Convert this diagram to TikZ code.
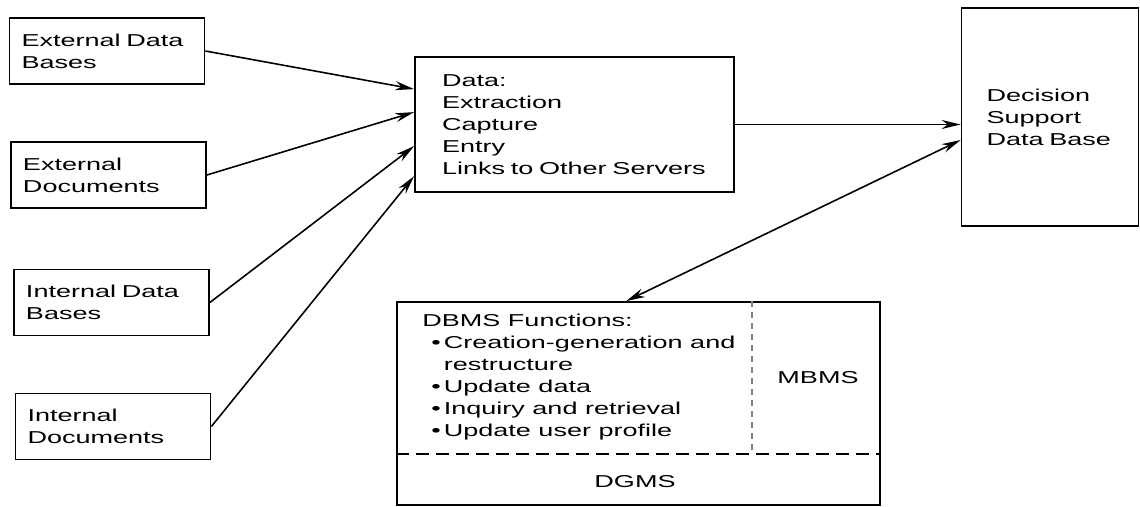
\documentclass[tikz,border=0pt]{standalone}
\usepackage{fontspec}
\setmainfont{Liberation Sans}[FakeStretch=1.57]
\usepackage{tikz}
\usetikzlibrary{calc,arrows.meta}

\begin{document}
\begin{tikzpicture}[y=-1cm,
  every node/.style={font=\fontsize{9.8}{12.5}\selectfont},
  box/.style={draw, line width=1pt, align=left, inner ysep=0pt},
  arr/.style={-{Stealth[length=0.38cm,width=0.18cm]}, line width=0.9pt},
  arrboth/.style={{Stealth[length=0.38cm,width=0.18cm]}-{Stealth[length=0.38cm,width=0.18cm]}, line width=0.9pt},
  hdash/.style={line width=0.9pt, dash pattern=on 0.26cm off 0.14cm},
  vdash/.style={line width=0.6pt, gray, dash pattern=on 0.12cm off 0.1cm}]
  \useasboundingbox (0,0) rectangle (22.8,10.14);
  \foreach \i/\x/\y/\t in {1/2.14/1.02/{External Data\\Bases},
                           2/2.17/3.5/{External\\Documents},
                           3/2.23/6.05/{Internal Data\\Bases},
                           4/2.26/8.53/{Internal\\Documents}}{
    \node[box, text width=3.42cm, inner xsep=0.24cm, minimum height=1.32cm] (src\i) at (\x,\y) {\t};
  }
  \node[box, text width=5.3cm, inner xsep=0.54cm, minimum height=2.7cm] (data) at (11.49,2.49)
    {Data:\\Extraction\\Capture\\Entry\\Links to Other Servers};
  \node[box, text width=2.54cm, inner xsep=0.5cm, minimum height=4.36cm] (dsdb) at (21.0,2.34)
    {Decision\\Support\\Data Base};
  \node[box, minimum width=9.66cm, minimum height=4.06cm] (dbms) at (12.77,8.07) {};
  \coordinate (pS) at (15.04,9.08);
  \draw[hdash] (dbms.west |- pS) -- (dbms.east |- pS);
  \draw[vdash] (pS |- dbms.north) -- (pS);
  \node[anchor=west, align=left, inner sep=0pt] (funcs) at (8.44,7.54)
    {DBMS Functions:\\
     \hspace*{0.18cm}\textbullet\hspace{0.06cm}Creation-generation and\\
     \hspace*{0.18cm}\phantom{\textbullet\hspace{0.06cm}}restructure\\
     \hspace*{0.18cm}\textbullet\hspace{0.06cm}Update data\\
     \hspace*{0.18cm}\textbullet\hspace{0.06cm}Inquiry and retrieval\\
     \hspace*{0.18cm}\textbullet\hspace{0.06cm}Update user profile};
  \node (mbms) at (16.36,7.56) {MBMS};
  \node (dgms) at (12.7,9.64) {DGMS};
  \foreach \i/\d in {1/0.66,2/1.12,3/1.8,4/2.4}
    \draw[arr] (src\i.east) -- ($(data.north west)+(0,\d)$);
  \draw[arr] (data.east) -- (data.east -| dsdb.west);
  \draw[arrboth] ($(dsdb.west)+(0,0.46)$) -- ($(dbms.north west)+(4.6,0)$);
\end{tikzpicture}
\end{document}
